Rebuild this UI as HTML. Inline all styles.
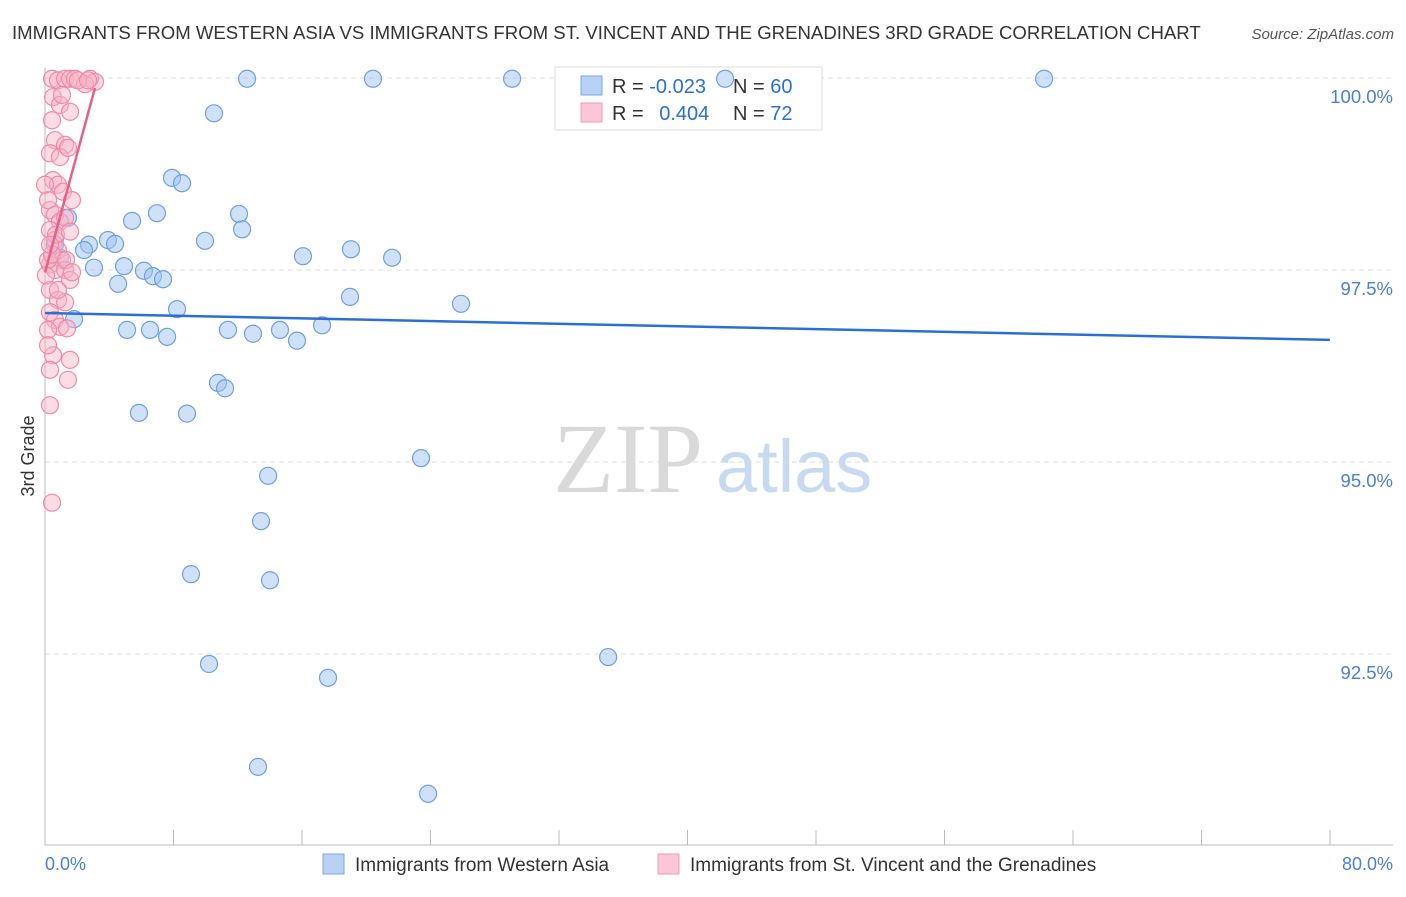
<!DOCTYPE html>
<html><head><meta charset="utf-8"><style>
body{margin:0;background:#fff;font-family:"Liberation Sans",sans-serif;}
</style></head><body>
<svg id="chart" width="1406" height="892" font-family="Liberation Sans, sans-serif">
<text x="12" y="39" font-size="18.6" fill="#333">IMMIGRANTS FROM WESTERN ASIA VS IMMIGRANTS FROM ST. VINCENT AND THE GRENADINES 3RD GRADE CORRELATION CHART</text>
<text x="1394" y="39" font-size="15" fill="#555" font-style="italic" text-anchor="end">Source: ZipAtlas.com</text>
<g>
<text x="553" y="492" font-size="100" fill="#d9d9d9" style="font-family:'Liberation Serif',serif">ZIP</text>
<text x="716" y="492" font-size="74" fill="#c8daf2">atlas</text>
</g>
<g id="grid"></g>
<g id="axes"></g>
<g>
<rect x="555" y="67" width="267" height="63" fill="#fff" stroke="#ddd"/>
<rect x="581" y="76" width="21" height="19" fill="#b8d2f5" stroke="#7aa8e6"/>
<rect x="581" y="103" width="21" height="19" fill="#fcc6d6" stroke="#f19ab5"/>
<text x="612" y="93" font-size="20" fill="#333">R = <tspan fill="#2a6fd6">-0.023</tspan></text>
<text x="733" y="93" font-size="20" fill="#333">N = <tspan fill="#2a6fd6">60</tspan></text>
<text x="612" y="120" font-size="20" fill="#333">R = <tspan fill="#2a6fd6" dx="10">0.404</tspan></text>
<text x="733" y="120" font-size="20" fill="#333">N = <tspan fill="#2a6fd6">72</tspan></text>
</g>
<g id="marks"></g>
<text transform="translate(34,456) rotate(-90)" font-size="18" fill="#333" text-anchor="middle">3rd Grade</text>
<text x="45" y="870" font-size="18" fill="#4a7fd4">0.0%</text>
<text x="1393" y="870" font-size="18" fill="#4a7fd4" text-anchor="end">80.0%</text>
<g>
<rect x="323" y="854" width="21" height="20" fill="#b8d2f5" stroke="#7aa8e6"/>
<text x="355" y="871" font-size="19" fill="#333">Immigrants from Western Asia</text>
<rect x="658" y="854" width="21" height="20" fill="#fcc6d6" stroke="#f19ab5"/>
<text x="690" y="871" font-size="19" fill="#333">Immigrants from St. Vincent and the Grenadines</text>
</g>
</svg>
<script>
const yTicks=[100,97.5,95,92.5];
const yTickLabels=["100.0%","97.5%","95.0%","92.5%"];
const xTicks=[0,8,16,24,32,40,48,56,64,72,80];
const blueX=[12.58,20.42,29.08,42.34,62.2,10.52,7.91,8.53,6.97,12.08,5.42,1.43,12.27,9.96,3.92,4.36,2.74,2.43,19.05,16.06,21.61,4.92,3.05,6.16,6.72,7.35,4.55,18.99,25.9,8.22,1.81,17.25,5.11,6.54,11.39,12.95,14.63,7.6,15.69,10.77,11.21,5.85,8.84,23.41,13.89,13.45,9.09,14.01,35.06,10.21,17.62,13.26,23.85,0.62,0.93];
const blueY=[99.99,99.99,99.99,99.99,99.99,99.54,98.70,98.63,98.24,98.23,98.14,98.18,98.03,97.88,97.89,97.84,97.83,97.76,97.77,97.68,97.66,97.55,97.53,97.49,97.42,97.38,97.32,97.15,97.06,96.99,96.86,96.78,96.72,96.72,96.72,96.67,96.72,96.63,96.58,96.03,95.96,95.64,95.63,95.05,94.82,94.23,93.54,93.46,92.46,92.37,92.19,91.03,90.68,97.83,97.66];
const pinkX=[0.44,0.81,1.25,1.56,1.87,2.80,3.11,2.49,0.50,0.93,1.56,0.62,1.25,0.31,0.93,1.43,0.50,0.81,1.12,1.68,0.31,0.62,0.93,1.25,0.31,0.62,0.81,1.06,0.31,0.62,1.25,1.56,0.31,0.81,1.25,0.31,0.62,0.93,0.19,1.37,0.50,1.56,0.31,1.43,0.31,0.44,0.19,0.44,0.68,1.56,0.19,0.00,0.44,1.06,2.05,2.68,0.81,0.19,0.31,1.31,1.68,0.06];
const pinkY=[99.99,99.97,99.99,99.99,99.99,99.99,99.95,99.92,99.75,99.65,99.56,99.19,99.13,99.02,98.97,99.09,98.67,98.61,98.52,98.41,98.28,98.22,98.13,98.18,98.02,97.89,97.76,97.63,97.57,97.50,97.50,97.37,97.24,97.11,97.08,96.95,96.85,96.76,96.72,96.74,96.39,96.33,96.20,96.07,95.74,94.47,97.63,97.70,97.96,98.00,98.41,98.61,99.45,99.78,99.97,99.97,97.24,96.52,97.83,97.63,97.47,97.43];
const blueTrendX=[0,80], blueTrendY=[96.94,96.59];
const pinkTrendX=[0,3.11], pinkTrendY=[97.47,99.87];
const NS="http://www.w3.org/2000/svg";
const sx=v=>45+v/80*1285;
const sy=v=>78+(100-v)*76.8;
function mk(tag,attrs,parent){const e=document.createElementNS(NS,tag);for(const k in attrs)e.setAttribute(k,attrs[k]);parent.appendChild(e);return e;}
const grid=document.getElementById('grid'),axes=document.getElementById('axes'),marks=document.getElementById('marks');
yTicks.forEach((t,i)=>{
 const l=mk('line',{x1:45,x2:1393,y1:sy(t),y2:sy(t),stroke:'#ddd','stroke-dasharray':'5,4'},grid);
 
 
 const tx=mk('text',{x:1393,y:sy(t)+25,'font-size':18.5,fill:'#4a7fd4','text-anchor':'end'},grid);
 tx.textContent=yTickLabels[i];
 
 
});
const xa=mk('line',{x1:45,x2:1393,y1:845,y2:845,stroke:'#bbb'},axes);


const ya=mk('line',{x1:45,x2:45,y1:68,y2:845,stroke:'#bbb'},axes);


xTicks.forEach(t=>{
 const l=mk('line',{x1:sx(t),x2:sx(t),y1:830,y2:845,stroke:'#bbb'},axes);
 
 
});
blueX.forEach((x,i)=>{
 const c=mk('circle',{cx:sx(x),cy:sy(blueY[i]),r:8.5,fill:'rgba(160,196,240,0.5)',stroke:'#6fa0e0','stroke-width':1.2},marks);
 
 
});
pinkX.forEach((x,i)=>{
 const c=mk('circle',{cx:sx(x),cy:sy(pinkY[i]),r:8.5,fill:'rgba(248,180,200,0.45)',stroke:'#f08aaa','stroke-width':1.2},marks);
 
 
});
const bt=mk('line',{x1:sx(blueTrendX[0]),y1:sy(blueTrendY[0]),x2:sx(blueTrendX[1]),y2:sy(blueTrendY[1]),stroke:'#2a6fd6','stroke-width':2.5},marks);


const pt=mk('line',{x1:sx(pinkTrendX[0]),y1:sy(pinkTrendY[0]),x2:sx(pinkTrendX[1]),y2:sy(pinkTrendY[1]),stroke:'#e8608a','stroke-width':2.5},marks);


</script>
</body></html>
